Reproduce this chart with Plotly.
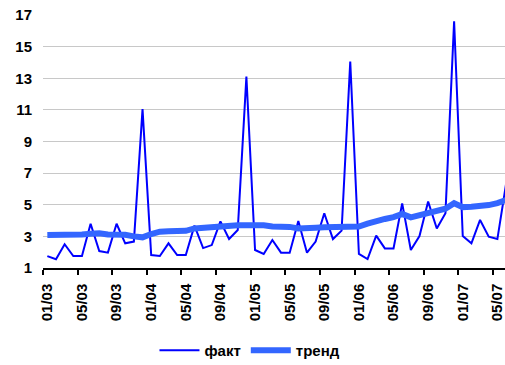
import plotly.graph_objects as go

# Monthly series, January 2003 onward
months = [f"{m:02d}/{y:02d}" for y in range(3, 8) for m in range(1, 13)][:54]

fact = [1.75, 1.55, 2.5, 1.76, 1.76, 3.8, 2.07, 1.97, 3.8, 2.56, 2.67, 11.05,
        1.82, 1.76, 2.56, 1.82, 1.82, 3.68, 2.26, 2.45, 3.95, 2.83, 3.4, 13.1,
        2.14, 1.89, 2.77, 1.97, 1.97, 3.97, 1.97, 2.67, 4.46, 2.83, 3.36, 14.05,
        1.89, 1.57, 3.05, 2.24, 2.24, 5.09, 2.14, 3.02, 5.2, 3.5, 4.46, 16.6,
        3.02, 2.56, 4.04, 2.98, 2.83, 6.3]

trend = [3.08, 3.07, 3.07, 3.1, 3.12, 3.17, 3.2, 3.12, 3.15, 3.1, 3.0, 2.94,
         3.15, 3.3, 3.32, 3.32, 3.35, 3.5, 3.55, 3.55, 3.6, 3.65, 3.7, 3.7,
         3.74, 3.7, 3.62, 3.62, 3.6, 3.5, 3.48, 3.55, 3.58, 3.6, 3.62, 3.62,
         3.62, 3.8, 4.0, 4.1, 4.22, 4.42, 4.2, 4.35, 4.45, 4.6, 4.75, 5.1,
         4.85, 4.88, 4.92, 4.98, 5.1, 5.3]

y_ticks = [1, 3, 5, 7, 9, 11, 13, 15, 17]

idx = list(range(len(months)))
label_idx = idx[::4]
label_text = [months[i] for i in label_idx]

FONT = "Liberation Sans, Arial, sans-serif"

fig = go.Figure()
fig.add_trace(go.Scatter(x=idx, y=fact, mode="lines", name="факт",
                         line=dict(color="#0000FF", width=2)))
fig.add_trace(go.Scatter(x=idx, y=trend, mode="lines", name="тренд",
                         line=dict(color="#3366FF", width=6)))

fig.update_layout(
    width=505, height=365,
    margin=dict(l=43, r=0, t=15, b=97),
    paper_bgcolor="white", plot_bgcolor="white",
    font=dict(family=FONT, color="black", size=15),
    showlegend=True,
    legend=dict(orientation="h", xref="container", yref="container",
                x=0.495, xanchor="center", y=0.04, yanchor="middle",
                font=dict(family=FONT, size=15, weight="bold"),
                itemwidth=40, tracegroupgap=0),
    xaxis=dict(
        range=[-0.5, 52.88],
        tickmode="array", tickvals=label_idx, ticktext=label_text,
        tickangle=-90, ticks="", ticklabelstandoff=8,
        ticklabeloverflow="allow",
        tickfont=dict(family=FONT, size=15, weight="bold"),
        showline=True, linecolor="black", linewidth=1.5,
        showgrid=False, zeroline=False,
        minor=dict(tick0=-0.5, dtick=4, ticks="outside", ticklen=5,
                   tickcolor="black", tickwidth=1.5, showgrid=False),
    ),
    yaxis=dict(
        range=[1, 17], tickmode="array", tickvals=y_ticks,
        showgrid=True, gridcolor="#C8C8C8", gridwidth=1,
        zeroline=False, showline=False, ticks="",
        ticklabelstandoff=10,
        tickfont=dict(family=FONT, size=15, weight="bold"),
    ),
)

fig.write_html("out.html")
